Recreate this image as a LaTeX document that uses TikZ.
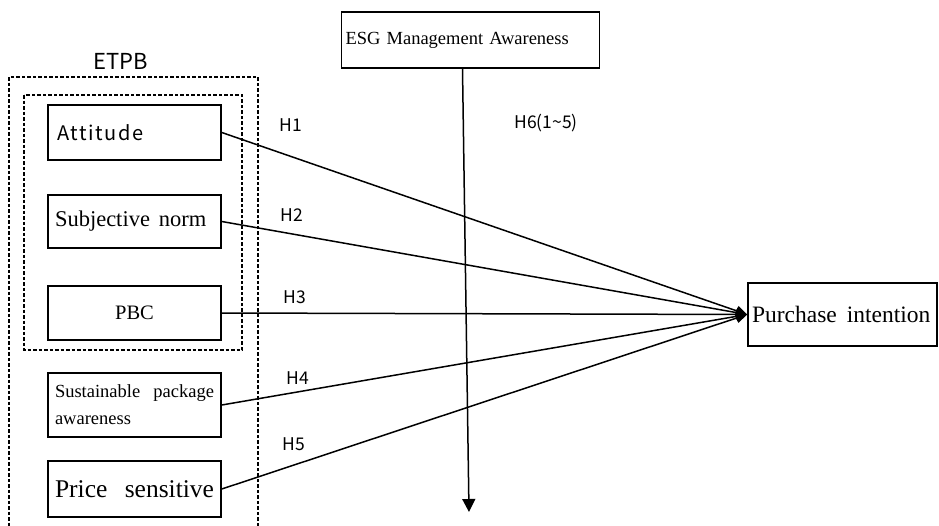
\documentclass[tikz,border=0pt]{standalone}
\usepackage{fontspec}
\setmainfont{Liberation Serif}
\newfontfamily\hsans{Noto Sans CJK KR}
\newfontfamily\hsanswide[LetterSpace=8]{Noto Sans CJK KR}
\usetikzlibrary{arrows.meta}
\begin{document}
\begin{tikzpicture}[x=1pt,y=-1pt,
  box/.style={draw,line width=1.6pt,text width=159pt,inner xsep=7pt,inner ysep=0pt,align=left},
  grp/.style={draw,line width=1.4pt,dash pattern=on 3.5pt off 2pt},
  path/.style={line width=1.5pt,-{Triangle[width=10pt,length=11pt]}},
  hlab/.style={font=\hsans\fontsize{17.5}{20}\selectfont,inner sep=0pt}]
\useasboundingbox (0,0) rectangle (939,525);
% construct groups
\draw[grp] (9,77) rectangle (258,540);
\draw[grp] (24,95) rectangle (242,350);
\node[font=\hsans\fontsize{22}{24}\selectfont,inner sep=0pt] (etpb) at (121,61) {ETPB};
% predictors
\node[box,minimum height=55pt,font=\hsanswide\fontsize{20}{22}\selectfont] (att) at (134.5,132.5)
  {\hspace*{2pt}Attitude};
\node[box,minimum height=53pt,font=\fontsize{22.5}{24}\selectfont] (sn) at (134.5,221.5)
  {Subjective\hspace{9pt}norm};
\node[box,minimum height=54pt,align=center,font=\fontsize{20.5}{22}\selectfont] (pbc) at (134.5,313)
  {PBC};
\node[box,minimum height=64pt,font=\fontsize{18.5}{27}\selectfont] (spa) at (134.5,405)
  {Sustainable\hfill package\hspace*{2pt}\\awareness};
\node[box,minimum height=56pt,font=\fontsize{25.5}{28}\selectfont] (ps) at (134.5,489)
  {Price\hfill sensitive\hspace*{3pt}};
% moderator and outcome
\node[box,text width=250pt,inner xsep=4pt,minimum height=56pt,font=\fontsize{18.5}{21}\selectfont] (esg) at (470.5,40)
  {ESG Management Awareness};
\node[box,text width=181pt,inner xsep=4pt,minimum height=63pt,align=left,font=\fontsize{23.5}{26}\selectfont] (pi) at (842.5,314.5)
  {Purchase\hspace{10pt}intention};
\coordinate (modend) at (469,512);
% paths
\draw[path] (att.east) -- (pi.west);
\draw[path] (sn.east) -- (pi.west);
\draw[path] (pbc.east) -- (pi.west);
\draw[path] (spa.east) -- (pi.west);
\draw[path] (ps.east) -- (pi.west);
\draw[line width=1.5pt,-{Triangle[width=13pt,length=13pt]}] ([xshift=-8pt]esg.south) -- (modend);
% hypothesis labels
\node[hlab] (h1) at (291,125) {H1};
\node[hlab] (h2) at (292,215) {H2};
\node[hlab] (h3) at (295,297) {H3};
\node[hlab] (h4) at (298,378) {H4};
\node[hlab] (h5) at (294,444) {H5};
\node[hlab] (h6) at (546,123) {H6(1\textasciitilde 5)};
\end{tikzpicture}
\end{document}
